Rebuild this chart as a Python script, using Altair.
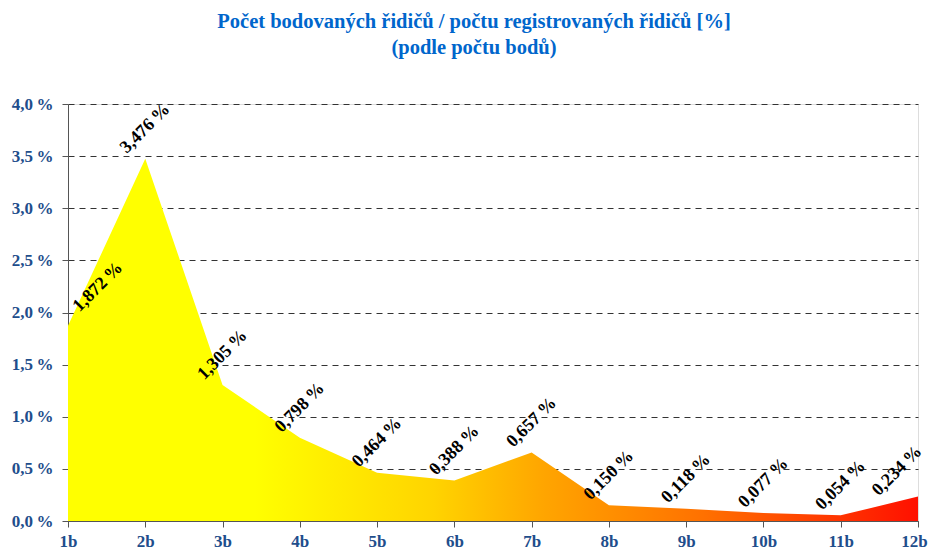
import altair as alt
import pandas as pd

categories = ["1b", "2b", "3b", "4b", "5b", "6b", "7b", "8b", "9b", "10b", "11b", "12b"]
values = [1.872, 3.476, 1.305, 0.798, 0.464, 0.388, 0.657, 0.150, 0.118, 0.077, 0.054, 0.234]
labels = ["1,872\u2009%", "3,476\u2009%", "1,305\u2009%", "0,798\u2009%", "0,464\u2009%",
          "0,388\u2009%", "0,657\u2009%", "0,150\u2009%", "0,118\u2009%", "0,077\u2009%",
          "0,054\u2009%", "0,234\u2009%"]

n = len(categories)
df = pd.DataFrame({"cat": categories, "val": values, "lab": labels,
                   "idx": list(range(n))})

FONT = "Liberation Serif"
AXIS_BLUE = "#1F4E8C"

x_enc = alt.X("cat:N", sort=categories, scale=alt.Scale(type="point", padding=0),
              axis=alt.Axis(title=None, labelAngle=0, labelFont=FONT, labelFontSize=17,
                            labelFontWeight="bold", labelColor=AXIS_BLUE, labelPadding=6,
                            labelOffset=alt.expr("datum.value === '12b' ? -4 : 0"),
                            domainColor="#555555", tickColor="#555555", tickSize=6,
                            grid=False, labelFlush=False))
y_enc = alt.Y("val:Q", scale=alt.Scale(domain=[0, 4], nice=False),
              axis=alt.Axis(title=None, values=[0, 0.5, 1, 1.5, 2, 2.5, 3, 3.5, 4],
                            labelExpr="replace(format(datum.value, '.1f'), '.', ',') + '\u2009%'",
                            labelFont=FONT, labelFontSize=17, labelFontWeight="bold",
                            labelColor=AXIS_BLUE, labelPadding=9,
                            domainColor="#555555", tickColor="#555555", tickSize=6,
                            grid=True, gridColor="#333333", gridDash=[6, 5], gridWidth=1))

grad = alt.Gradient(
    gradient="linear",
    stops=[alt.GradientStop(color="#FFFF00", offset=0),
           alt.GradientStop(color="#FFFF00", offset=0.22),
           alt.GradientStop(color="#FFD400", offset=0.43),
           alt.GradientStop(color="#FFA500", offset=0.56),
           alt.GradientStop(color="#FF7000", offset=0.75),
           alt.GradientStop(color="#FF1000", offset=1)],
    x1=0, x2=1, y1=0, y2=0)

area = alt.Chart(df).mark_area(color=grad, interpolate="linear").encode(x=x_enc, y=y_enc)

def label_layer(filt, radius, theta):
    return alt.Chart(df).transform_filter(filt).mark_text(
        font=FONT, fontSize=18, fontWeight="bold", color="black", angle=315,
        align="center", baseline="middle", radius=radius, theta=theta
    ).encode(x=alt.X("cat:N", sort=categories), y="val:Q", text="lab:N")

text_main = label_layer(f"datum.idx > 0 && datum.idx < {n - 1}", 30, 0)
text_first = label_layer("datum.idx == 0", 49, 0.66)
text_last = label_layer(f"datum.idx == {n - 1}", 33, 5.6)

chart = alt.layer(area, text_main, text_first, text_last).properties(
    width=850, height=417,
    autosize=alt.AutoSizeParams(type="none"),
    padding={"left": 60, "top": 96, "right": 10, "bottom": 28},
    title=alt.TitleParams(
        text=["Počet bodovaných řidičů / počtu registrovaných řidičů [%]", "(podle počtu bodů)"],
        font=FONT, fontSize=20.5, fontWeight="bold", color="#0066CC",
        anchor="middle", lineHeight=26, offset=37, dx=-19)
).configure_view(stroke=None).configure(background="white")

chart.save("out.html", embed_options={"renderer": "svg", "actions": False})
